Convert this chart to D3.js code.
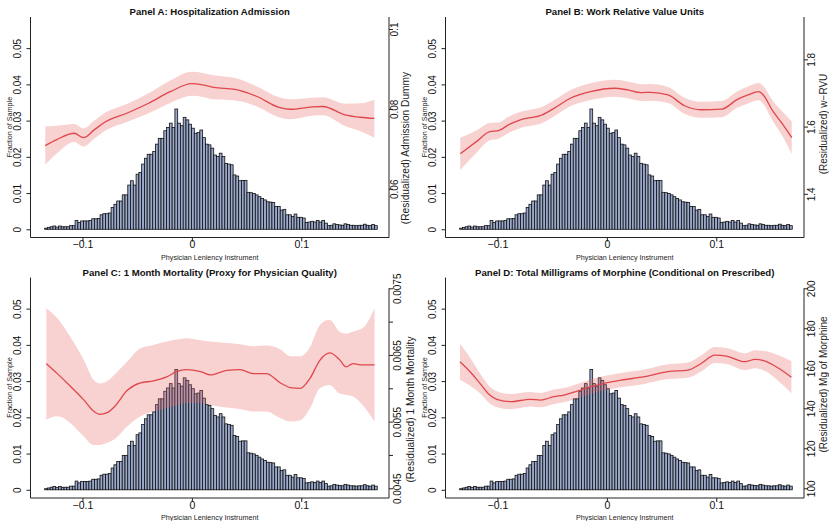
<!DOCTYPE html>
<html>
<head>
<meta charset="utf-8">
<script src="https://cdn.jsdelivr.net/npm/d3@7"></script>
<style>
  body { margin: 0; background: #fff; }
  svg { display: block; font-family: "Liberation Sans", Arial, Helvetica, sans-serif; }
</style>
</head>
<body>
<svg id="chart" width="829" height="521"></svg>
<script>
// ---- Histogram of the physician leniency instrument (shared by all panels) ----
const binStart = -0.1346;
const binWidth = 0.002534;
const fraction = [
  0.0003, 0.0005, 0.0007, 0.0009, 0.0006, 0.0009, 0.0007, 0.0007, 0.0007, 0.0010,
  0.0010, 0.0024, 0.0019, 0.0023, 0.0023, 0.0023, 0.0024, 0.0029, 0.0029, 0.0030,
  0.0040, 0.0043, 0.0043, 0.0045, 0.0060, 0.0069, 0.0078, 0.0078, 0.0095, 0.0095,
  0.0122, 0.0134, 0.0122, 0.0152, 0.0157, 0.0180, 0.0196, 0.0207, 0.0207, 0.0215,
  0.0235, 0.0251, 0.0251, 0.0272, 0.0281, 0.0293, 0.0281, 0.0332, 0.0293, 0.0286,
  0.0309, 0.0302, 0.0290, 0.0279, 0.0265, 0.0267, 0.0274, 0.0253, 0.0235, 0.0233,
  0.0224, 0.0205, 0.0201, 0.0210, 0.0201, 0.0182, 0.0180, 0.0178, 0.0150, 0.0147,
  0.0134, 0.0135, 0.0135, 0.0102, 0.0101, 0.0099, 0.0095, 0.0090, 0.0085, 0.0081,
  0.0076, 0.0075, 0.0074, 0.0063, 0.0063, 0.0053, 0.0055, 0.0040, 0.0040, 0.0035,
  0.0042, 0.0033, 0.0033, 0.0031, 0.0019, 0.0020, 0.0022, 0.0020, 0.0024, 0.0020,
  0.0024, 0.0017, 0.0010, 0.0011, 0.0015, 0.0013, 0.0012, 0.0011, 0.0015, 0.0013,
  0.0011, 0.0011, 0.0010, 0.0011, 0.0011, 0.0014, 0.0011, 0.0010, 0.0013, 0.0010
];

const xTicks = [-0.1, 0, 0.1];
const xTickLabels = ["\u22120.1", "0", "0.1"];
const leftTicks = [0, 0.01, 0.02, 0.03, 0.04, 0.05];
const leftTickLabels = ["0", "0.01", "0.02", "0.03", "0.04", "0.05"];

// ---- Panel A: hospitalization admission ----
const aX   = [-0.134, -0.1235, -0.1076, -0.0991, -0.089, -0.0793, -0.0595, -0.0396, -0.0198, 0, 0.01, 0.0198, 0.0396, 0.0595, 0.0796, 0.09, 0.1098, 0.1198, 0.14, 0.154, 0.1668];
const aFit = [0.0708, 0.0723, 0.0739, 0.0728, 0.0748, 0.0767, 0.0789, 0.0814, 0.0843, 0.0863, 0.0860, 0.0854, 0.0849, 0.0831, 0.0804, 0.0799, 0.0805, 0.0806, 0.0785, 0.0779, 0.0776];
const aLo  = [0.0661, 0.0688, 0.0717, 0.0706, 0.0726, 0.0745, 0.0767, 0.0789, 0.0815, 0.0833, 0.0830, 0.0824, 0.0821, 0.0806, 0.0779, 0.0774, 0.0783, 0.0784, 0.0757, 0.0744, 0.0728];
const aHi  = [0.0756, 0.0758, 0.0762, 0.0751, 0.0771, 0.0790, 0.0812, 0.0839, 0.0871, 0.0893, 0.0890, 0.0884, 0.0877, 0.0856, 0.0829, 0.0824, 0.0828, 0.0829, 0.0813, 0.0814, 0.0823];
const aTicks = [0.06, 0.08, 0.1];
const aTickLabels = ["0.06", "0.08", "0.1"];

// ---- Panel B: work relative value units ----
const bX   = [-0.134, -0.119, -0.107, -0.099, -0.09, -0.079, -0.059, -0.048, -0.033, -0.015, 0.007, 0.019, 0.031, 0.040, 0.056, 0.071, 0.086, 0.105, 0.119, 0.129, 0.139, 0.143, 0.151, 0.160, 0.169];
const bFit = [1.519, 1.556, 1.585, 1.588, 1.605, 1.620, 1.635, 1.655, 1.685, 1.704, 1.714, 1.709, 1.701, 1.702, 1.694, 1.662, 1.650, 1.652, 1.680, 1.694, 1.704, 1.694, 1.650, 1.610, 1.567];
const bLo  = [1.471, 1.523, 1.559, 1.564, 1.581, 1.596, 1.611, 1.631, 1.661, 1.679, 1.689, 1.684, 1.676, 1.677, 1.670, 1.638, 1.626, 1.628, 1.656, 1.669, 1.678, 1.667, 1.620, 1.574, 1.519];
const bHi  = [1.567, 1.589, 1.611, 1.612, 1.629, 1.644, 1.659, 1.679, 1.709, 1.729, 1.739, 1.734, 1.726, 1.727, 1.718, 1.686, 1.674, 1.676, 1.704, 1.719, 1.730, 1.721, 1.680, 1.646, 1.615];
const bTicks = [1.4, 1.6, 1.8];
const bTickLabels = ["1.4", "1.6", "1.8"];

// ---- Panel C: one-month mortality ----
const cX   = [-0.133, -0.123, -0.111, -0.099, -0.090, -0.084, -0.078, -0.071, -0.059, -0.047, -0.035, -0.023, -0.014, -0.005, 0.008, 0.017, 0.032, 0.044, 0.056, 0.068, 0.081, 0.090, 0.099, 0.108, 0.117, 0.126, 0.135, 0.141, 0.147, 0.156, 0.167];
const cFit = [0.00637, 0.00622, 0.00603, 0.00583, 0.00566, 0.00561, 0.00563, 0.00572, 0.00597, 0.00608, 0.00611, 0.00617, 0.00625, 0.00628, 0.00625, 0.00620, 0.00627, 0.00628, 0.00622, 0.00622, 0.00608, 0.00601, 0.00600, 0.00615, 0.00642, 0.00653, 0.00643, 0.00632, 0.00637, 0.00635, 0.00635];
const cLo  = [0.00553, 0.00558, 0.00548, 0.00528, 0.00515, 0.00515, 0.00518, 0.00523, 0.00543, 0.00558, 0.00565, 0.00570, 0.00574, 0.00578, 0.00578, 0.00575, 0.00571, 0.00569, 0.00565, 0.00565, 0.00555, 0.00550, 0.00552, 0.00570, 0.00600, 0.00605, 0.00592, 0.00590, 0.00588, 0.00575, 0.00550];
const cHi  = [0.00720, 0.00705, 0.00677, 0.00643, 0.00613, 0.00607, 0.00610, 0.00620, 0.00640, 0.00660, 0.00665, 0.00670, 0.00673, 0.00675, 0.00672, 0.00670, 0.00668, 0.00666, 0.00663, 0.00664, 0.00658, 0.00648, 0.00648, 0.00662, 0.00695, 0.00703, 0.00685, 0.00682, 0.00685, 0.00690, 0.00720];
const cTicks = [0.0045, 0.005, 0.0055, 0.006, 0.0065, 0.007, 0.0075];
const cTickLabels = ["0.0045", "", "0.0055", "", "0.0065", "", "0.0075"];

// ---- Panel D: total milligrams of morphine ----
const dX   = [-0.1343, -0.125, -0.116, -0.107, -0.1006, -0.0883, -0.07, -0.0607, -0.0485, -0.0393, -0.027, -0.0147, -0.0025, 0.0129, 0.0343, 0.0558, 0.0742, 0.0865, 0.0987, 0.1095, 0.1263, 0.1355, 0.1447, 0.157, 0.1687];
const dFit = [163.3, 158.3, 152.5, 146.6, 144.5, 143.3, 144.5, 144.1, 145.8, 146.6, 148.6, 150.8, 152.5, 154.1, 155.8, 158.3, 159.1, 162.5, 166.6, 166.1, 163.3, 164.5, 163.6, 160.0, 155.5];
const dLo  = [154.3, 151.3, 147.5, 142.4, 140.5, 139.5, 140.9, 140.5, 142.2, 143.0, 145.0, 147.2, 148.9, 150.5, 152.2, 154.6, 155.3, 158.5, 162.6, 162.1, 159.1, 160.0, 158.6, 153.5, 147.5];
const dHi  = [172.3, 165.3, 157.5, 150.8, 148.5, 147.1, 148.1, 147.7, 149.4, 150.2, 152.2, 154.4, 156.1, 157.7, 159.4, 162.0, 162.9, 166.5, 170.6, 170.1, 167.5, 169.0, 168.6, 166.5, 163.5];
const dTicks = [100, 120, 140, 160, 180, 200];
const dTickLabels = ["100", "120", "140", "160", "180", "200"];

// ---- Styling ----
const barFill = "#9aa8cc";
const bandFill = "rgba(232, 104, 104, 0.30)";
const lineColor = "#e0474c";
const axisColor = "#222";

const plot = { left: 30.5, right: 389, top: 17, bottom: 237.5 };
const xDomain = [-0.1475, 0.1802];
const leftDomain = [-0.00227, 0.0586];

const panels = [
  { ox: 0,   oy: 0,     title: "Panel A: Hospitalization Admission",
    rightTitle: "(Residualized) Admission Dummy", rightTitleX: 405, rightTitleY: 148, rightTitleSize: 10.2, rLabelGap: 5.5,
    xs: aX, fit: aFit, lo: aLo, hi: aHi, rDomain: [0.0478, 0.103],
    rTicks: aTicks, rLabels: aTickLabels, rAxisFull: true },
  { ox: 415, oy: 0,     title: "Panel B: Work Relative Value Units",
    rightTitle: "(Residualized) w\u2212RVU", rightTitleX: 408, rightTitleY: 124, rightTitleSize: 10, rLabelGap: 7.5,
    xs: bX, fit: bFit, lo: bLo, hi: bHi, rDomain: [1.27, 1.926],
    rTicks: bTicks, rLabels: bTickLabels, rAxisFull: true },
  { ox: 0,   oy: 260.5, title: "Panel C: 1 Month Mortality (Proxy for Physician Quality)",
    rightTitle: "(Residualized) 1 Month Mortality", rightTitleX: 410, rightTitleY: 149, rightTitleSize: 10.2, rLabelGap: 8,
    xs: cX, fit: cFit, lo: cLo, hi: cHi, rDomain: [0.004354, 0.007662],
    rTicks: cTicks, rLabels: cTickLabels, rAxisFull: false },
  { ox: 415, oy: 260.5, title: "Panel D: Total Milligrams of Morphine (Conditional on Prescribed)",
    rightTitle: "(Residualized) Mg of Morphine", rightTitleX: 408, rightTitleY: 124, rightTitleSize: 10, rLabelGap: 7.5,
    xs: dX, fit: dFit, lo: dLo, hi: dHi, rDomain: [95.15, 205.4],
    rTicks: dTicks, rLabels: dTickLabels, rAxisFull: false }
];

const svg = d3.select("#chart");

function drawPanel(p) {
  const g = svg.append("g").attr("transform", `translate(${p.ox},${p.oy})`);
  const x = d3.scaleLinear().domain(xDomain).range([plot.left, plot.right]);
  const yL = d3.scaleLinear().domain(leftDomain).range([plot.bottom, plot.top]);
  const yR = d3.scaleLinear().domain(p.rDomain).range([plot.bottom, plot.top]);

  // histogram bars
  g.append("g").selectAll("rect").data(fraction).join("rect")
    .attr("x", (d, i) => x(binStart + i * binWidth))
    .attr("width", (d, i) => x(binStart + (i + 1) * binWidth) - x(binStart + i * binWidth))
    .attr("y", d => yL(d))
    .attr("height", d => yL(0) - yL(d))
    .attr("fill", barFill)
    .attr("stroke", "#111")
    .attr("stroke-width", 0.8);

  // local-linear fit with its confidence band
  const pts = p.xs.map((v, i) => ({ x: v, fit: p.fit[i], lo: p.lo[i], hi: p.hi[i] }));
  g.append("path").datum(pts)
    .attr("d", d3.area().curve(d3.curveMonotoneX)
      .x(d => x(d.x)).y0(d => yR(d.lo)).y1(d => yR(d.hi)))
    .attr("fill", bandFill);
  g.append("path").datum(pts)
    .attr("d", d3.line().curve(d3.curveMonotoneX)
      .x(d => x(d.x)).y(d => yR(d.fit)))
    .attr("fill", "none")
    .attr("stroke", lineColor)
    .attr("stroke-width", 1.3);

  // bottom axis
  const ax = g.append("g").attr("transform", `translate(0,${plot.bottom})`)
    .call(d3.axisBottom(x).tickValues(xTicks).tickSize(4).tickSizeOuter(0)
      .tickFormat((d, i) => xTickLabels[i]));
  ax.select(".domain").attr("d", `M${plot.left},0H${plot.right}`);
  ax.selectAll("text").attr("y", 3.5).attr("dy", "0.71em").attr("font-size", 10.5);

  // left axis (fraction of sample)
  const al = g.append("g").attr("transform", `translate(${plot.left},0)`)
    .call(d3.axisLeft(yL).tickValues(leftTicks).tickSize(4).tickSizeOuter(0)
      .tickFormat((d, i) => leftTickLabels[i]));
  al.select(".domain").attr("d", `M0,${plot.top}V${plot.bottom}`);
  al.selectAll("text")
    .attr("transform", "rotate(-90)")
    .attr("x", 0).attr("y", -13.3).attr("dy", "0.36em")
    .attr("text-anchor", "middle").attr("font-size", 10);

  // right axis (residualized outcome)
  const ar = g.append("g").attr("transform", `translate(${plot.right},0)`)
    .call(d3.axisRight(yR).tickValues(p.rTicks).tickSize(4).tickSizeOuter(0)
      .tickFormat((d, i) => p.rLabels[i]));
  const rTop = p.rAxisFull ? plot.top : yR(d3.max(p.rTicks));
  ar.select(".domain").attr("d", `M0,${rTop}V${plot.bottom}`);
  ar.selectAll("text")
    .attr("transform", "rotate(-90)")
    .attr("x", 0).attr("y", p.rLabelGap).attr("dy", "0.36em")
    .attr("text-anchor", "middle").attr("font-size", 10);

  g.selectAll(".domain, .tick line").attr("stroke", axisColor);
  g.selectAll(".tick text").attr("fill", "#111");

  // titles
  g.append("text")
    .attr("x", (plot.left + plot.right) / 2).attr("y", 15.2)
    .attr("text-anchor", "middle").attr("font-weight", "bold").attr("font-size", 9.6)
    .attr("fill", "#111").text(p.title);
  g.append("text")
    .attr("x", (plot.left + plot.right) / 2).attr("y", 259.5)
    .attr("text-anchor", "middle").attr("font-size", 7.2).attr("fill", "#222")
    .text("Physician Leniency Instrument");
  g.append("text")
    .attr("transform", `translate(9.5,127) rotate(-90)`)
    .attr("text-anchor", "middle").attr("dy", "0.36em").attr("font-size", 7.2).attr("fill", "#222")
    .text("Fraction of Sample");
  g.append("text")
    .attr("transform", `translate(${p.rightTitleX},${p.rightTitleY}) rotate(-90)`)
    .attr("text-anchor", "middle").attr("dy", "0.36em").attr("font-size", p.rightTitleSize).attr("fill", "#222")
    .text(p.rightTitle);
}

panels.forEach(drawPanel);
</script>
</body>
</html>
